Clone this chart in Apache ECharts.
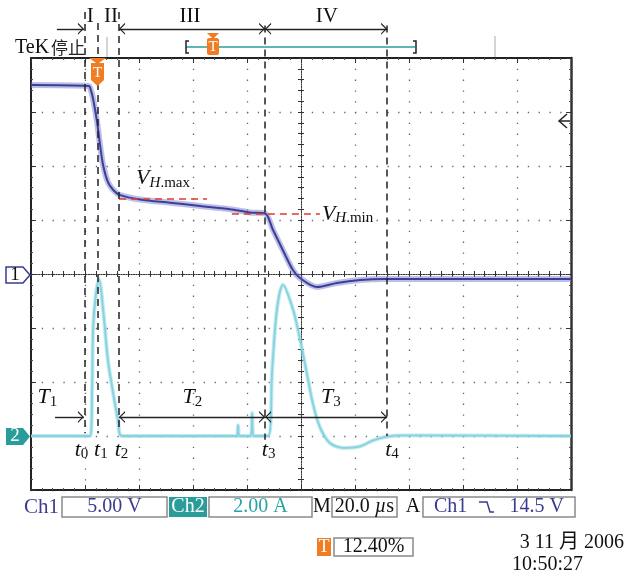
<!DOCTYPE html>
<html>
<head>
<meta charset="utf-8">
<title>Tek capture</title>
<script src="https://cdn.jsdelivr.net/npm/echarts@6/dist/echarts.min.js"></script>
<style>
  html, body { margin: 0; padding: 0; background: #fff; }
  #main { width: 626px; height: 575px; }
</style>
</head>
<body>
<div id="main"></div>
<script>
// time in microseconds from the screen centre (20 us/div)
// Ch1: 5 V/div, ground at centre.  Ch2: 2 A/div, ground 3 div below centre.
var ch1Time = [-100, -78.6, -77.8, -77.0, -75.6, -74.4, -73.3, -71.5, -69.6, -67.0, -59.6, -48.5, -37.4, -26.3, -18.9, -13.3, -10.4, -6.7, -3.0, -0.4, 5.9, 13.3, 21.9, 30.4, 100];
var ch1Volt = [17.5, 17.4, 17.0, 16.2, 14.2, 11.9, 10.1, 8.5, 7.8, 7.3, 6.9, 6.6, 6.3, 6.0, 5.7, 5.6, 4.1, 2.2, 0.37, -0.37, -1.2, -0.83, -0.56, -0.46, -0.46];

var ch2Time = [-100, -78.1, -77.4, -77.0, -75.9, -74.8, -73.3, -71.5, -69.6, -67.8, -66.3, -23.8, -23.3, -22.8, -18.6, -18.1, -17.6, -12.2, -10.7, -8.9, -6.7, -3.0, -0.4, 2.2, 4.4, 7.0, 10.7, 15.6, 21.9, 26.7, 31.9, 38.0, 100];
var ch2Amp = [0, 0, 1.6, 4.0, 5.3, 5.8, 4.7, 2.8, 1.6, 0.6, 0, 0, 0.4, 0, 0, 0.85, 0, 0, 2.4, 4.7, 5.6, 4.7, 3.6, 2.3, 1.2, 0.33, -0.26, -0.44, -0.38, -0.16, -0.02, 0.02, 0];

// instants t0..t4 and where their labels sit
var tMarks = [-80.0, -75.2, -67.4, -13.3, 31.9];
var tLabelX = [-81.3, -74.1, -66.5, -12.0, 33.7];
var phaseNames = ['I', 'II', 'III', 'IV'];
var phaseLabelX = [-78.1, -70.4, -41.1, 9.6];
var intervalNames = ['1', '2', '3'];
var intervalLabelX = [-93.9, -40.2, 11.1];

// V_H.max / V_H.min levels (V) and the time span of their dashed guides
var vhLevels = [7.0, 5.55];
var vhSpans = [[-67.4, -34.8], [-25.6, 7.0]];

var SERIF = "'Liberation Serif', 'DejaVu Serif', serif";
var CJK = "'Liberation Serif', 'Noto Sans CJK SC', serif";
var BLUE = '#3a3b90';
var TEAL = '#2a9d9a';
var ORANGE = '#f07c24';

function pairs(xs, ys) {
    return xs.map(function (x, i) { return [x, ys[i]]; });
}

var chevron = 'path://M5,0L5.05,0L5.05,0.05ZM5,10L10,20L8.6,20L5,12.8L1.4,20L0,20Z';

var subRich = {
    it: { fontFamily: SERIF, fontStyle: 'italic', fontSize: 22, color: '#111', lineHeight: 24 },
    sbi: { fontFamily: SERIF, fontStyle: 'italic', fontSize: 15, color: '#111', lineHeight: 15, verticalAlign: 'bottom' },
    sb: { fontFamily: SERIF, fontSize: 15, color: '#111', lineHeight: 15, verticalAlign: 'bottom' }
};

function merge(a, b) { for (var k in b) a[k] = b[k]; return a; }

function frameAxis(extra) {
    return merge({
        type: 'value',
        axisLabel: { show: false },
        axisLine: { show: true, onZero: false, lineStyle: { color: '#222', width: 2 } },
        axisTick: { show: true, inside: true, length: 5, lineStyle: { color: '#333', width: 1 } },
        minorTick: { show: true, splitNumber: 5, length: 2, lineStyle: { color: '#555', width: 1 } },
        splitLine: { show: false }
    }, extra);
}
var dotted = { show: true, lineStyle: { color: '#666', width: 1.3, type: [1.3, 9.5] } };
var crossLine = { show: true, onZero: true, onZeroAxisIndex: 0, lineStyle: { color: '#333', width: 1, type: [1, 1.5] } };
function crossTicks(inside) {
    return {
        axisTick: { show: true, inside: inside, length: 3, lineStyle: { color: '#333', width: 1 } },
        minorTick: { show: true, splitNumber: 5, length: 3, lineStyle: { color: '#333', width: 1 } }
    };
}

// annotation lines (annotation grid: x in us, y in screen divisions from centre)
var lineTop = [4.85, 4.65, 4.85, 4.6, 4.6];
var lineBot = [-2.95, -2.95, -2.9, -3.07, -3.0];
var annLines = [];
tMarks.forEach(function (t, i) {
    annLines.push([{ coord: [t, lineTop[i]] }, { coord: [t, lineBot[i]] }]);
});
function arrow(a, b, y, both) {
    return [
        { coord: [a, y], symbol: both ? chevron : 'none', lineStyle: { type: 'solid', width: 1.4, color: '#222' } },
        { coord: [b, y], symbol: chevron }
    ];
}
annLines.push(arrow(-90.4, tMarks[0] - 0.4, 4.54, false));
annLines.push(arrow(tMarks[2], tMarks[3], 4.54, true));
annLines.push(arrow(tMarks[3], tMarks[4], 4.54, true));
annLines.push(arrow(-91.1, tMarks[0] - 0.4, -2.65, false));
annLines.push(arrow(tMarks[2], tMarks[3], -2.65, true));
annLines.push(arrow(tMarks[3], tMarks[4], -2.65, true));

var annTexts = [];
phaseNames.forEach(function (n, i) {
    annTexts.push({ coord: [phaseLabelX[i], 4.76], label: { formatter: n, fontSize: 21, fontFamily: SERIF, color: '#111' } });
});
intervalNames.forEach(function (n, i) {
    annTexts.push({ coord: [intervalLabelX[i], -2.28], label: { formatter: '{it|T}{sb|' + n + '}', rich: subRich } });
});
tMarks.forEach(function (t, i) {
    annTexts.push({ coord: [tLabelX[i], -3.26], label: { formatter: '{it|t}{sb|' + i + '}', rich: subRich } });
});

function gText(x, y, text, opt) {
    return {
        type: 'text', x: x, y: y, z: 30, silent: true,
        style: merge({ text: text, fill: '#111', fontSize: 20, fontFamily: SERIF, align: 'left', verticalAlign: 'middle' }, opt || {})
    };
}
function gBox(x, y, w, h, fill) {
    return {
        type: 'rect', z: 19, silent: true, shape: { x: x, y: y, width: w, height: h },
        style: fill ? { fill: fill } : { fill: null, stroke: '#8a8a8a', lineWidth: 1.5 }
    };
}
function gShape(type, shape, style) {
    return { type: type, z: 21, silent: true, shape: shape, style: style };
}

var chrome = [
    // top status
    gText(15, 48, 'TeK', {}),
    gText(51, 48, '停止', { fontFamily: "'Noto Sans CJK SC'", fontSize: 17, fill: '#222' }),
    gShape('line', { x1: 107, y1: 37, x2: 107, y2: 57 }, { stroke: '#aaa', lineWidth: 1 }),
    gShape('line', { x1: 495, y1: 36, x2: 495, y2: 57 }, { stroke: '#aaa', lineWidth: 1 }),
    gShape('line', { x1: 186, y1: 47, x2: 415, y2: 47 }, { stroke: TEAL, lineWidth: 1.5 }),
    gShape('polyline', { points: [[189, 41], [186, 41], [186, 53], [189, 53]] }, { stroke: '#222', lineWidth: 1.5, fill: null }),
    gShape('polyline', { points: [[413, 41], [416, 41], [416, 53], [413, 53]] }, { stroke: '#222', lineWidth: 1.5, fill: null }),
    gShape('polygon', { points: [[207, 33], [219, 33], [213, 39]] }, { fill: ORANGE }),
    gShape('rect', { x: 207, y: 38, width: 12, height: 17, r: 2 }, { fill: ORANGE }),
    gText(213, 47, 'T', { fill: '#fff', fontSize: 15, align: 'center' }),
    // trigger position marker on the graticule
    gShape('polygon', { points: [[89, 58], [106, 58], [97.5, 64]] }, { fill: ORANGE }),
    gShape('polygon', { points: [[91, 63], [104, 63], [104, 80], [97.5, 86], [91, 80]] }, { fill: ORANGE }),
    gText(97.5, 73, 'T', { fill: '#fff', fontSize: 15, align: 'center' }),
    // trigger level arrow (right edge)
    gShape('polyline', { points: [[567, 114], [559, 121], [567, 128]] }, { stroke: '#222', lineWidth: 1.5, fill: null }),
    gShape('line', { x1: 559, y1: 121, x2: 570, y2: 121 }, { stroke: '#222', lineWidth: 1.5 }),
    // channel ground markers
    gShape('polygon', { points: [[6, 267], [23, 267], [30, 275], [23, 283], [6, 283]] }, { fill: '#fff', stroke: BLUE, lineWidth: 1.5 }),
    gText(15, 275, '1', { align: 'center', fontSize: 19 }),
    gShape('polygon', { points: [[6, 428], [23, 428], [30, 436.5], [23, 445], [6, 445]] }, { fill: TEAL }),
    gText(15, 436.5, '2', { align: 'center', fontSize: 19, fill: '#fff' }),
    // bottom readouts
    gText(24, 507, 'Ch1', { fill: BLUE, fontSize: 21 }),
    gBox(62, 497, 105, 20),
    gText(114.5, 507, '5.00 V', { fill: BLUE, align: 'center' }),
    gBox(169, 497, 38, 20, TEAL),
    gText(188, 507, 'Ch2', { fill: '#fff', align: 'center' }),
    gBox(209, 497, 103, 20),
    gText(260.5, 507, '2.00 A', { fill: '#2aa3a3', align: 'center' }),
    gText(322, 507, 'M', { align: 'center' }),
    gBox(332, 497, 65, 20),
    gText(364.5, 507, '{n|20.0 }{i|\u00b5}{n|s}', { align: 'center', rich: { n: { fontSize: 20, fontFamily: SERIF, fill: '#111' }, i: { fontSize: 20, fontFamily: SERIF, fontStyle: 'italic', fill: '#111' } } }),
    gText(413, 507, 'A', { align: 'center' }),
    gBox(423, 497, 152, 20),
    gText(434, 507, 'Ch1', { fill: BLUE }),
    gShape('polyline', { points: [[479, 502], [487, 502], [490, 512], [494, 512]] }, { stroke: BLUE, lineWidth: 1.5, fill: null }),
    gText(564, 507, '14.5 V', { fill: BLUE, align: 'right' }),
    gBox(317, 538, 14, 18, ORANGE),
    gText(324, 547, 'T', { fill: '#fff', align: 'center', fontSize: 18 }),
    gBox(334, 538, 79, 18),
    gText(373.5, 547, '12.40%', { align: 'center' }),
    gText(624, 543, '3 11 月 2006', { align: 'right', fontFamily: CJK }),
    gText(512, 565, '10:50:27', {})
];

var chart = echarts.init(document.getElementById('main'));

var option = {
    animation: false,
    backgroundColor: '#fff',
    grid: [
        { left: 31, top: 58, width: 540, height: 432 },
        { left: 31, top: 4, width: 540, height: 486 }
    ],
    xAxis: [
        frameAxis({ gridIndex: 0, min: -100, max: 100, interval: 20, position: 'bottom', splitLine: dotted }),
        frameAxis({ gridIndex: 0, min: -100, max: 100, interval: 20, position: 'top' }),
        frameAxis(merge({ gridIndex: 0, min: -100, max: 100, interval: 20, position: 'bottom', axisLine: crossLine }, crossTicks(true))),
        frameAxis(merge({ gridIndex: 0, min: -100, max: 100, interval: 20, position: 'bottom', axisLine: crossLine }, crossTicks(false))),
        { type: 'value', gridIndex: 1, min: -100, max: 100, show: false }
    ],
    yAxis: [
        frameAxis({ gridIndex: 0, min: -20, max: 20, interval: 5, position: 'left', splitLine: dotted }),
        frameAxis({ gridIndex: 0, min: -2, max: 14, interval: 2, position: 'right',
            axisLine: { show: true, onZero: false, lineStyle: { color: '#333', width: 2.5 } } }),
        frameAxis(merge({ gridIndex: 0, min: -20, max: 20, interval: 5, position: 'left', axisLine: crossLine }, crossTicks(true))),
        frameAxis(merge({ gridIndex: 0, min: -20, max: 20, interval: 5, position: 'left', axisLine: crossLine }, crossTicks(false))),
        { type: 'value', gridIndex: 1, min: -4, max: 5, show: false }
    ],
    graphic: { elements: chrome },
    series: [
        {
            name: 'Ch1 band', type: 'line', xAxisIndex: 0, yAxisIndex: 0, z: 3, silent: true,
            data: pairs(ch1Time, ch1Volt), showSymbol: false, smooth: 0.3,
            lineStyle: { color: 'rgba(125,128,205,0.5)', width: 6 }
        },
        {
            name: 'Ch1', type: 'line', xAxisIndex: 0, yAxisIndex: 0, z: 4, silent: true,
            data: pairs(ch1Time, ch1Volt), showSymbol: false, smooth: 0.3,
            lineStyle: { color: '#3c3f98', width: 2 },
            markLine: {
                silent: true, animation: false, symbol: 'none',
                lineStyle: { color: '#e23a2c', width: 1.5, type: [7, 5] },
                label: { show: true, rich: subRich },
                data: [
                    [{ coord: [vhSpans[0][0], vhLevels[0]], label: { position: 'insideMiddleTop', distance: 8, formatter: '{it|V}{sbi|H}{sb|.max}' } },
                     { coord: [vhSpans[0][1], vhLevels[0]] }],
                    [{ coord: [vhSpans[1][0], vhLevels[1]], label: { position: 'end', distance: 2, formatter: '{it|V}{sbi|H}{sb|.min}' } },
                     { coord: [vhSpans[1][1], vhLevels[1]] }]
                ]
            }
        },
        {
            name: 'Ch2 band', type: 'line', xAxisIndex: 0, yAxisIndex: 1, z: 3, silent: true,
            data: pairs(ch2Time, ch2Amp), showSymbol: false, smooth: 0.3,
            lineStyle: { color: 'rgba(140,216,228,0.55)', width: 4 }
        },
        {
            name: 'Ch2', type: 'line', xAxisIndex: 0, yAxisIndex: 1, z: 4, silent: true,
            data: pairs(ch2Time, ch2Amp), showSymbol: false, smooth: 0.3,
            lineStyle: { color: '#86d2de', width: 1.8 }
        },
        {
            name: 'notes', type: 'line', xAxisIndex: 4, yAxisIndex: 4, z: 6, silent: true,
            data: [],
            markLine: {
                silent: true, animation: false, symbol: 'none', symbolSize: [12, 12],
                label: { show: false },
                lineStyle: { color: '#222', width: 1.5, type: [7, 5] },
                data: annLines
            },
            markPoint: {
                silent: true, animation: false, symbol: 'circle', symbolSize: 1,
                itemStyle: { color: 'rgba(0,0,0,0)' },
                label: { show: true, position: 'inside', color: '#111' },
                data: annTexts
            }
        }
    ]
};

chart.setOption(option);
</script>
</body>
</html>
